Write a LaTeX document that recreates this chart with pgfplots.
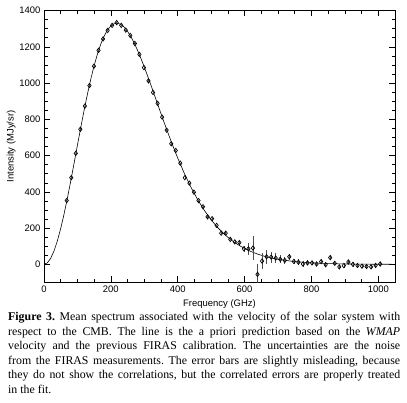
\documentclass[border=0pt]{standalone}
\usepackage{pgfplots}
\pgfplotsset{compat=1.18}
\usepackage{pgfplotstable}
\usepackage{fontspec}
\setmainfont{Liberation Serif}
\newfontfamily\axisfont{Liberation Sans}

\pgfplotstableread{
nu I
0 0
10 8.4
20 33.5
30 74.3
40 129.8
50 198.2
60 277.5
70 365.5
80 459.7
90 557.7
100 656.9
110 755.0
120 849.8
130 939.3
140 1021.9
150 1096.0
160 1160.8
170 1215.4
180 1259.4
190 1292.6
200 1315.2
210 1327.4
220 1329.8
230 1322.9
240 1307.7
250 1284.9
260 1255.4
270 1220.1
280 1180.0
290 1135.8
300 1088.6
320 987.8
340 883.3
360 779.4
380 679.6
400 586.3
420 500.8
440 424.0
460 356.0
480 296.7
500 245.6
520 202.0
540 165.2
560 134.3
580 108.7
600 87.5
620 70.1
640 56.0
660 44.5
680 35.3
700 27.9
750 15.2
800 8.2
850 4.3
900 2.3
950 1.2
1000 0.6
1050 0.3
}\modeltable

\pgfplotstableread{
nu I err
67.95 352 3
81.54 478 3
95.13 612 3
108.72 745 3
122.31 873 3
135.90 986 3
149.49 1093 3
163.08 1180 3
176.67 1243 3
190.26 1290 3
203.85 1318 3
217.44 1333 3
231.03 1318 3
244.62 1292 3
258.21 1262 3
271.80 1218 3
285.39 1158 3
298.98 1085 3
312.57 1012 3
326.16 948 3
339.75 888 3
353.34 812 3
366.93 740 3
380.52 665 3
394.11 628 3
407.70 558 3
421.29 478 3
434.88 448 3
448.47 398 3
462.06 352 3
475.65 318 4
489.24 262 4
502.83 252 4
516.42 215 4
530.01 172 5
543.60 172 5
557.19 138 6
570.78 124 7
584.37 120 9
597.96 86 18
611.55 86 32
625.14 90 64
638.73 -55 58
652.32 18 45
665.91 42 38
679.50 40 30
693.09 35 25
706.68 28 22
720.27 22 20
733.86 42 16
747.45 16 15
761.04 12 15
774.63 2 14
788.22 8 14
801.81 8 13
815.40 2 13
828.99 15 13
842.58 -2 13
856.17 37 12
869.76 6 12
883.35 -14 12
896.94 -7 12
910.53 13 12
924.12 0 12
937.71 -6 12
951.30 -10 12
964.89 -12 12
978.48 -14 12
992.07 -6 12
1005.66 2 12
}\datatable

\begin{document}
\frenchspacing
\begin{tikzpicture}
\useasboundingbox (0,0) rectangle (407bp,403bp);
\begin{axis}[
  at={(44bp,120.5bp)}, anchor=south west,
  scale only axis, width=351bp, height=272bp,
  xmin=0, xmax=1050, ymin=-100, ymax=1400,
  xtick={0,200,...,1000}, ytick={0,200,...,1400},
  minor x tick num=3, minor y tick num=3,
  major tick length=6bp, minor tick length=3.5bp,
  tick style={black, line width=0.5pt},
  axis line style={line width=0.6pt},
  /pgf/number format/assume math mode=true,
  /pgf/number format/set thousands separator={},
  ticklabel style={font=\axisfont\fontsize{9.5}{11}\selectfont},
  label style={font=\axisfont\fontsize{9.5}{11}\selectfont},
  xlabel={Frequency (GHz)},
  ylabel={Intensity (MJy/sr)},
  xlabel style={yshift=0bp},
  ylabel style={yshift=-3bp},
]
\addplot[black, line width=0.6pt, no markers] table[x=nu, y=I] {\modeltable};
\addplot[black, only marks, mark=diamond, mark size=2.2pt,
  mark options={line width=0.7pt, fill=white},
  error bars/.cd, y dir=both, y explicit,
  error bar style={line width=0.6pt, black!70}, error mark=none]
  table[x=nu, y=I, y error=err] {\datatable};
\end{axis}
\node[anchor=north west, inner sep=0pt, text width=392bp, align=justify,
  font=\fontsize{11.9}{14.6}\selectfont] at (8bp,91bp) {%
\textbf{Figure 3.} Mean spectrum associated with the velocity of the solar system with\linebreak
respect to the CMB. The line is the a priori prediction based on the \textit{WMAP}\linebreak
velocity and the previous FIRAS calibration. The uncertainties are the noise\linebreak
from the FIRAS measurements. The error bars are slightly misleading, because\linebreak
they do not show the correlations, but the correlated errors are properly treated\linebreak
in the fit.};
\end{tikzpicture}
\end{document}
